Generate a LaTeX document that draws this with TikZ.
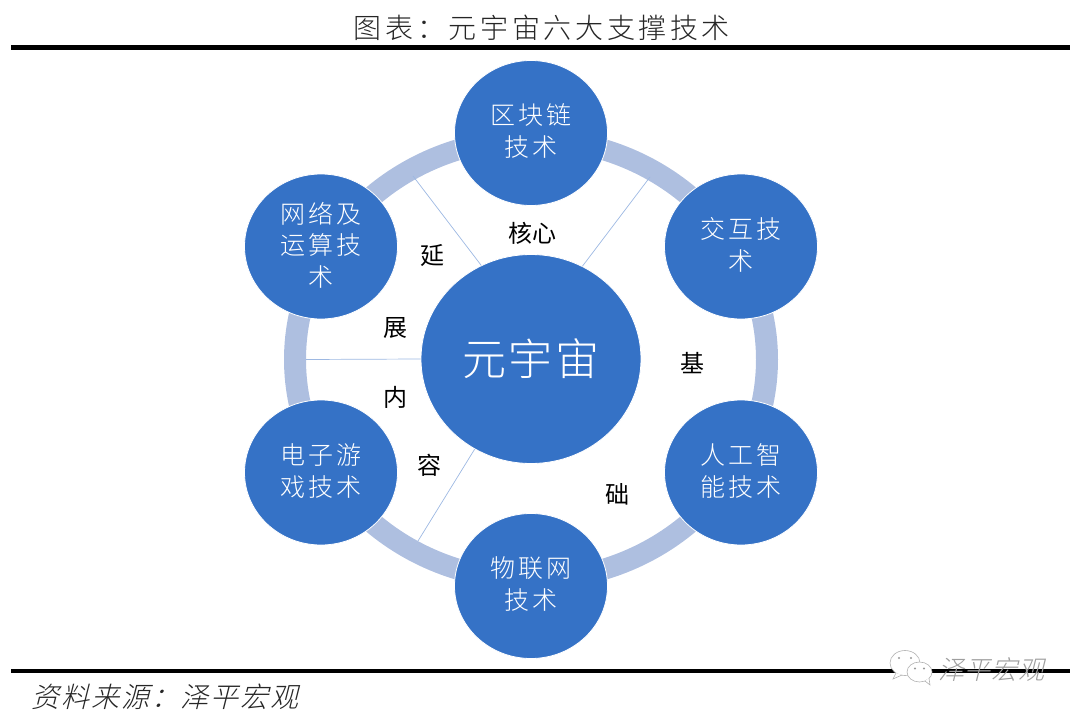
\documentclass[tikz,border=0pt]{standalone}
\usepackage{fontspec}
\usetikzlibrary{shapes.geometric,calc}
\newfontfamily\cjk{Noto Sans CJK SC Light}
\newfontfamily\cjkreg{Noto Sans CJK SC}
\newfontfamily\cjkit[FakeSlant=0.25]{Noto Sans CJK SC Light}
\definecolor{hub}{HTML}{3572C6}
\definecolor{ringc}{HTML}{AEBFE0}
\definecolor{spoke}{HTML}{9DB8E2}
\tikzset{
 sat/.style={ellipse,fill=hub,draw=white,line width=0.8pt,minimum width=153pt,minimum height=145pt,inner sep=0pt},
 sattext/.style={inner sep=0pt,align=center,text=white,font=\cjk\fontsize{25}{31.5}\selectfont\addfontfeature{LetterSpace=12}},
 centre/.style={ellipse,fill=hub,draw=white,line width=0.8pt,minimum width=220pt,minimum height=209pt,inner sep=0pt,text=white,font=\cjk\fontsize{44}{46}\selectfont\addfontfeature{LetterSpace=6}},
 lab/.style={inner sep=0pt,text=black,font=\cjkreg\fontsize{24}{26}\selectfont},
 spokeline/.style={draw=spoke,line width=0.7pt},
 rule/.style={draw=black,line width=4.6pt},
 bubble/.style={fill=white,draw=black!30,line width=0.6pt},
}
\begin{document}
\begin{tikzpicture}[x=1pt,y=-1pt]
\useasboundingbox (0,0) rectangle (1080,717);
\fill[ringc,even odd rule] (531,359.5) ellipse [x radius=247,y radius=231] (531,359.5) ellipse [x radius=225,y radius=210];
\node[centre] (c) at (531,359) {元宇宙};
\coordinate (e1) at (413,176);
\coordinate (e2) at (650,177);
\coordinate (e3) at (306,359.5);
\coordinate (e4) at (418,541);
\draw[spokeline] (c.118) -- (e1);
\draw[spokeline] (c.61) -- (e2);
\draw[spokeline] (c.west) -- (e3);
\draw[spokeline] (c.238) -- (e4);
\node[sat] (a) at (531,133) {};
\node[sat] (b) at (741,246.5) {};
\node[sat] (d) at (741,472.5) {};
\node[sat] (f) at (531,586) {};
\node[sat] (g) at (321,472.5) {};
\node[sat] (h) at (321,246.5) {};
\node[sattext] (at) at ($(a)+(0,-2)$) {区块链\\技术};
\node[sattext] (bt) at ($(b)+(0,-1.5)$) {交互技\\术};
\node[sattext] (dt) at ($(d)+(0,-1.5)$) {人工智\\能技术};
\node[sattext] (ft) at ($(f)+(0,-2)$) {物联网\\技术};
\node[sattext] (gt) at ($(g)+(0,-1.5)$) {电子游\\戏技术};
\node[sattext] (ht) at ($(h)+(0,-1.5)$) {网络及\\运算技\\术};
\node[lab] (l1) at (532,233) {核心};
\node[lab] (l2) at (432,256) {延};
\node[lab] (l3) at (395,328) {展};
\node[lab] (l4) at (395,397) {内};
\node[lab] (l5) at (429,465) {容};
\node[lab] (l6) at (692,363) {基};
\node[lab] (l7) at (617,494) {础};
\coordinate (r1a) at (11,47.5); \coordinate (r1b) at (1070,47.5);
\coordinate (r2a) at (11,671); \coordinate (r2b) at (1070,671);
\draw[rule] (r1a) -- (r1b);
\draw[rule] (r2a) -- (r2b);
\node[inner sep=0pt,text=black!85,font=\cjk\fontsize{28}{30}\selectfont\addfontfeature{LetterSpace=13}] (t) at (542,28) {图表：元宇宙六大支撑技术};
\node[inner sep=0pt,anchor=west,text=black!85,font=\cjkit\fontsize{28}{30}\selectfont\addfontfeature{LetterSpace=7}] (s) at (31,697) {资料来源：泽平宏观};
% watermark
\fill[bubble] (905,663) ellipse [x radius=15,y radius=12.5];
\draw[bubble] (896,673) -- (893,679) -- (902,675);
\fill[bubble] (919.5,672) ellipse [x radius=12.5,y radius=10];
\draw[bubble] (925,681) -- (930,685) -- (929,678);
\fill[black!40] (899,658) circle (1.1) (911,658) circle (1.1) (915,668.5) circle (1.1) (924,668.5) circle (1.1);
\node[inner sep=0pt,anchor=west,text=black!38,font=\cjkit\fontsize{26}{28}\selectfont\addfontfeature{LetterSpace=3}] (w) at (938,670) {泽平宏观};
\end{tikzpicture}
\end{document}
